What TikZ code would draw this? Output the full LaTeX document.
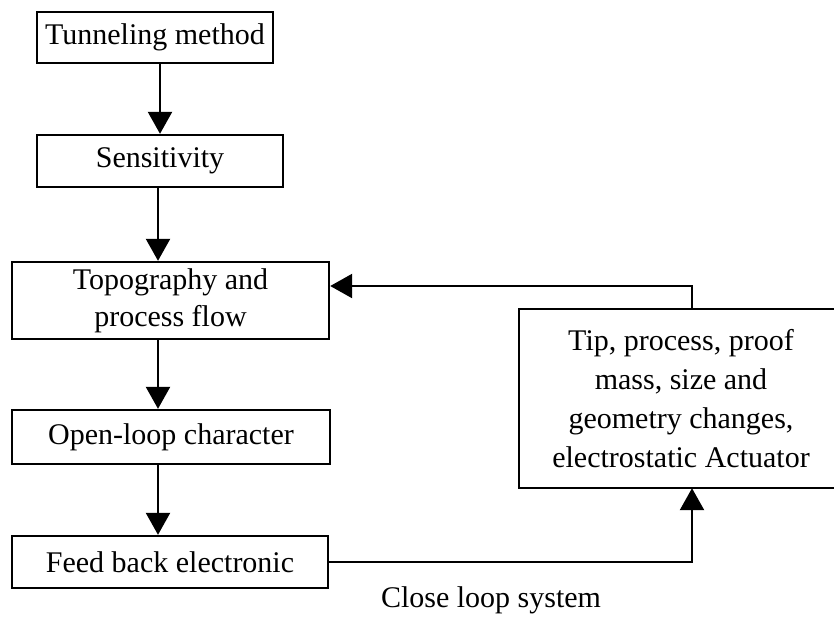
\documentclass[tikz,border=0pt]{standalone}
\usepackage{fontspec}
\setmainfont{Liberation Serif}
\usetikzlibrary{arrows.meta}

\begin{document}
\begin{tikzpicture}[x=1pt, y=-1pt,
    box/.style={draw, line width=2.4pt, align=center, inner sep=0pt,
        font=\fontsize{30}{37}\selectfont},
    arrow/.style={line width=2.4pt, -{Triangle[length=22pt, width=24pt]}}]
    \useasboundingbox (0,0) rectangle (834,619);

    % Boxes
    \path
    (155, 37.5) node[box, minimum width=236, minimum height=51] (tunnel) {Tunneling method}
    (160, 161) node[box, minimum width=246, minimum height=52] (sens) {Sensitivity}
    (170.5, 300.5) node[box, minimum width=317, minimum height=77] (topo) {Topography and\\process flow}
    (171, 437) node[box, minimum width=318, minimum height=54] (open) {Open-loop character}
    (170, 562) node[box, minimum width=316, minimum height=52] (fback) {Feed back electronic}
    (681, 398.5) node[box, draw=none, minimum width=322, minimum height=177,
        font=\fontsize{30}{39}\selectfont] (act) {Tip, process, proof\\mass, size and\\geometry changes,\\electrostatic Actuator}
    (491, 600) node[font=\fontsize{30}{37}\selectfont] (caption) {Close loop system}
    ;

    % Actuator box runs off the right edge
    \draw[line width=2.4pt] (act.north east) -- (act.north west) -- (act.south west) -- (act.south east);

    % Helper coordinates
    \coordinate (spine) at (158, 0);
    \coordinate (ret) at (692, 286);

    % Forward path
    \draw[arrow] (tunnel.south -| sens) -- (sens.north);
    \draw[arrow] (sens.south -| spine) -- (topo.north -| spine);
    \draw[arrow] (topo.south -| spine) -- (open.north -| spine);
    \draw[arrow] (open.south -| spine) -- (fback.north -| spine);

    % Loop
    \draw[arrow] (fback.east) -| (act.south -| ret);
    \draw[arrow] (act.north -| ret) -- (ret) -- (topo.east |- ret);

\end{tikzpicture}
\end{document}
